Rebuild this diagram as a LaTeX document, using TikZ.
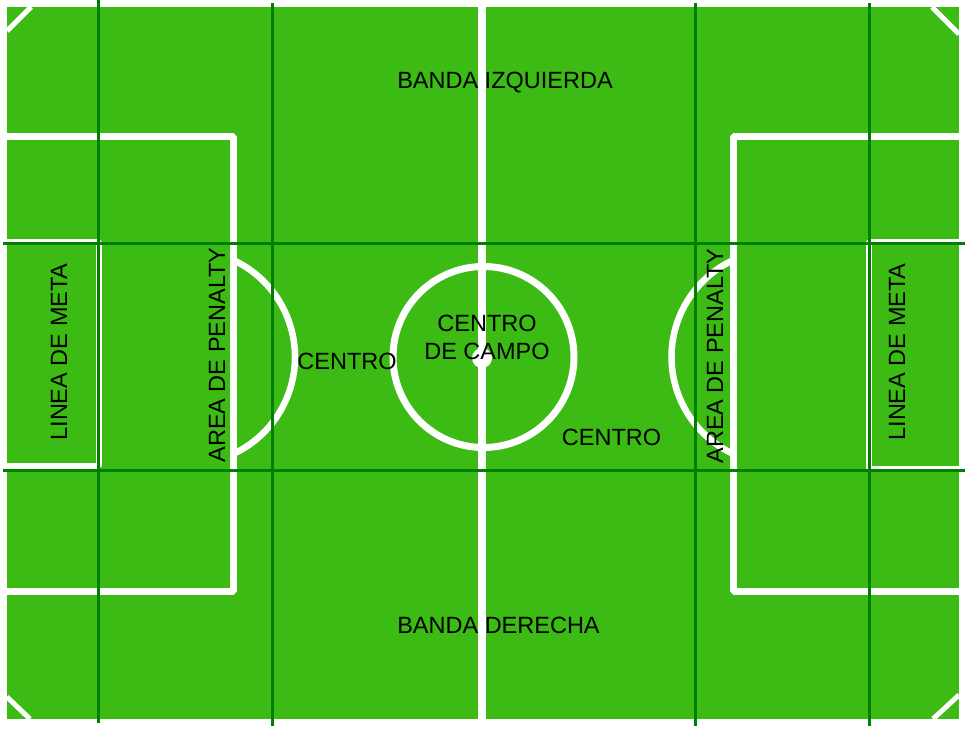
\documentclass[tikz,border=0pt]{standalone}
\usepackage{fontspec}
\setmainfont{Liberation Sans}
\usepackage{tikz}
\definecolor{cesped}{RGB}{59,187,20}
\definecolor{rejilla}{RGB}{0,128,0}

\begin{document}
\begin{tikzpicture}[x=1pt, y=-1pt,
			linea/.style={white, line width=7pt, line join=bevel},
			esquina/.style={white, line width=5pt},
			marca/.style={rejilla, line width=3pt},
			rotulo/.style={anchor=base, inner sep=0pt, font=\fontsize{23.5}{28}\selectfont}]
			\useasboundingbox (0,0) rectangle (969,730);
			\fill[white] (0,0) rectangle (969,730);
			\coordinate (O) at (7,7);
			\coordinate (E) at (959,719);
			\fill[cesped] (O) rectangle (E);
			\draw[linea] (7,137) -- (233.5,137) -- (233.5,591) -- (7,591);
			\draw[linea] (959,137) -- (733,137) -- (733,591) -- (959,591);
			\draw[linea, line width=6pt] (7,242) -- (98.5,242) -- (98.5,466) -- (7,466);
			\draw[linea, line width=6pt] (959,242) -- (868.5,242) -- (868.5,469) -- (959,469);
			\coordinate (M1) at (482,7);
			\coordinate (M2) at (482,719);
			\draw[linea, line width=7.5pt] (M1) -- (M2);
			\coordinate (C) at (483.5,357);
			\draw[linea] (C) circle (90.5);
			\fill[white] (482,358) circle (10);
			\coordinate (PI) at (188,357);
			\coordinate (PD) at (778.5,357);
			\draw[linea, line width=6.5pt] (PI) ++(-64.8:107) arc[start angle=-64.8, end angle=64.8, radius=107];
			\draw[linea, line width=6.5pt] (PD) ++(115.2:107) arc[start angle=115.2, end angle=244.8, radius=107];
			\draw[esquina] (7,31) -- (31,7);
			\draw[esquina] (932,7) -- (959,34);
			\draw[esquina] (7,697) -- (30,719);
			\draw[esquina] (933,719) -- (959,695);
			\foreach \x/\a/\b in {98/0/723, 272/3/726, 695/3/726, 869/3/726}
				\draw[marca] (\x,\a) -- (\x,\b);
			\foreach \y in {243.5, 470.5}
				\draw[marca] (3,\y) -- (965,\y);
			\draw (505,89) node[rotulo] (bandaizq) {BANDA IZQUIERDA};
			\draw (498.5,633) node[rotulo] (bandader) {BANDA DERECHA};
			\draw (487,315) node[rotulo, anchor=north, align=center] (centrocampo) {CENTRO\\DE CAMPO};
			\draw (347,369) node[rotulo] (centroizq) {CENTRO};
			\draw (611.5,445) node[rotulo] (centroder) {CENTRO};
			\draw (225,355) node[rotulo, rotate=90] (areaizq) {AREA DE PENALTY};
			\draw (723,356) node[rotulo, rotate=90] (areader) {AREA DE PENALTY};
			\draw (67,352) node[rotulo, rotate=90] (metaizq) {LINEA DE META};
			\draw (905,352) node[rotulo, rotate=90] (metader) {LINEA DE META};
			\end{tikzpicture}
\end{document}
